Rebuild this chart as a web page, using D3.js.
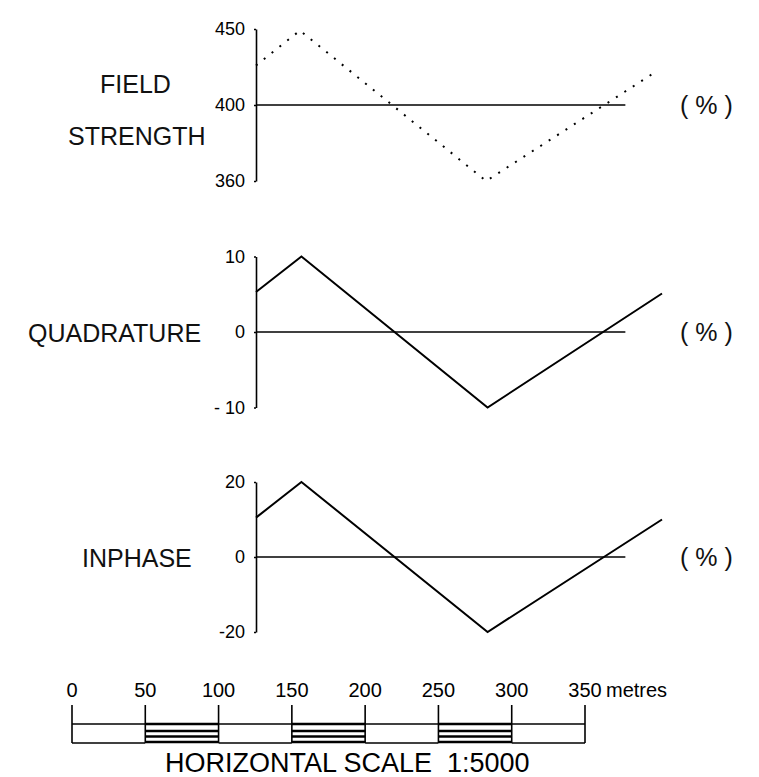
<!DOCTYPE html>
<html>
<head>
<meta charset="utf-8">
<script src="https://cdn.jsdelivr.net/npm/d3@7"></script>
<style>
    body { margin: 0; background: #fff; }
    svg { display: block; font-family: "Liberation Sans", Arial, sans-serif; }
    .axis path, .axis line { stroke: #000; stroke-width: 1.6; }
    .axis text { font-size: 18px; fill: #000; }
    .label { font-size: 25px; fill: #111; }
</style>
</head>
<body>
<svg width="759" height="777"></svg>
<script>
// distances along the profile, metres from the left axis
const fieldDistance = [0, 30, 157, 273];
const fieldStrength = [426, 449, 350, 422];

const profileDistance = [0, 31, 158, 277];
const quadrature = [5.3, 10, -10, 5.1];
const inphase = [10.5, 20, -20, 10];

const baseLine = [0, 252];

const fieldTicks = [450, 400, 350];
const fieldTickLabels = ["450", "400", "360"];
const quadTicks = [10, 0, -10];
const quadTickLabels = ["10", "0", "- 10"];
const inTicks = [20, 0, -20];
const inTickLabels = ["20", "0", "-20"];

const scaleMarks = [0, 50, 100, 150, 200, 250, 300, 350];

const svg = d3.select("svg");

const xBar = d3.scaleLinear().domain([0, 350]).range([72, 585]);
const pxPerMetre = xBar(1) - xBar(0);
const axisX = 256;
const x = d3.scaleLinear().domain([0, 1]).range([axisX, axisX + pxPerMetre]);

const panels = [
    { y: d3.scaleLinear().domain([350, 450]).range([181, 29]), base: 400,
      ticks: fieldTicks, labels: fieldTickLabels,
      dist: fieldDistance, values: fieldStrength, dotted: true,
      title: [["FIELD", 100, 93], ["STRENGTH", 68, 145]] },
    { y: d3.scaleLinear().domain([-10, 10]).range([407.5, 256.5]), base: 0,
      ticks: quadTicks, labels: quadTickLabels,
      dist: profileDistance, values: quadrature, dotted: false,
      title: [["QUADRATURE", 28, 342]] },
    { y: d3.scaleLinear().domain([-20, 20]).range([632, 482]), base: 0,
      ticks: inTicks, labels: inTickLabels,
      dist: profileDistance, values: inphase, dotted: false,
      title: [["INPHASE", 82, 567]] }
];

panels.forEach(p => {
    const g = svg.append("g");

    g.append("g")
        .attr("class", "axis")
        .attr("transform", `translate(${axisX},0)`)
        .call(d3.axisLeft(p.y)
            .tickValues(p.ticks)
            .tickFormat((d, i) => p.labels[i])
            .tickSize(2)
            .tickSizeOuter(0)
            .tickPadding(9))
        .call(a => a.selectAll("text").attr("font-family", null));

    g.append("line")
        .attr("x1", x(baseLine[0]))
        .attr("x2", x(baseLine[1]))
        .attr("y1", p.y(p.base))
        .attr("y2", p.y(p.base))
        .attr("stroke", "#000")
        .attr("stroke-width", 1.6);

    const line = d3.line()
        .x((d, i) => x(p.dist[i]))
        .y(d => p.y(d));

    g.append("path")
        .datum(p.values)
        .attr("d", line)
        .attr("fill", "none")
        .attr("stroke", "#000")
        .attr("stroke-width", 2)
        .attr("stroke-dasharray", p.dotted ? "2,8" : null);

    g.selectAll(".title")
        .data(p.title)
        .join("text")
        .attr("class", "label")
        .attr("x", d => d[1])
        .attr("y", d => d[2])
        .text(d => d[0]);

    g.append("text")
        .attr("class", "label")
        .attr("x", 680)
        .attr("y", p.y(p.base) + 9)
        .attr("xml:space", "preserve")
        .text("( % )");
});

// horizontal scale bar
const bar = svg.append("g");
const barTop = 724;

bar.selectAll(".mark")
    .data(scaleMarks)
    .join("line")
    .attr("x1", d => xBar(d))
    .attr("x2", d => xBar(d))
    .attr("y1", 705)
    .attr("y2", 743)
    .attr("stroke", "#000")
    .attr("stroke-width", 1.6);

bar.selectAll(".num")
    .data(scaleMarks)
    .join("text")
    .attr("x", d => xBar(d))
    .attr("y", 697)
    .attr("text-anchor", "middle")
    .attr("font-size", 20)
    .text(d => d);

bar.append("text")
    .attr("x", 606)
    .attr("y", 697)
    .attr("font-size", 20)
    .text("metres");

const segments = d3.pairs(scaleMarks);
segments.forEach(([a, b], i) => {
    const offsets = i % 2 ? [0, 7, 12.5, 18] : [0, 19];
    bar.selectAll(null)
        .data(offsets)
        .join("line")
        .attr("x1", xBar(a))
        .attr("x2", xBar(b))
        .attr("y1", d => barTop + d)
        .attr("y2", d => barTop + d)
        .attr("stroke", "#000")
        .attr("stroke-width", i % 2 ? 2.4 : 1.6);
});

bar.append("text")
    .attr("x", 165)
    .attr("y", 772)
    .attr("font-size", 27)
    .attr("xml:space", "preserve")
    .text("HORIZONTAL SCALE  1:5000");
</script>
</body>
</html>
